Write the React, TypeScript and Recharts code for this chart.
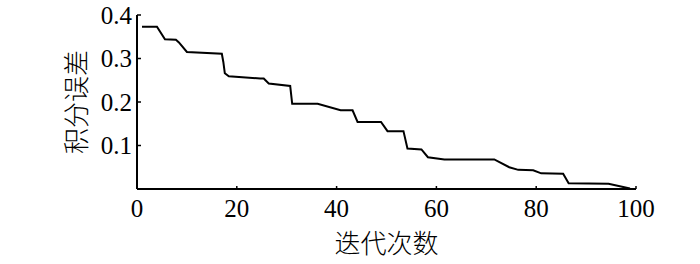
import React from "react"
import { LineChart, Line, XAxis, YAxis } from "recharts"

// iteration numbers and integral error (turning points of the step curve)
const iterations = [
  1, 4, 5.6, 7.8, 8.4, 10, 17, 17.3, 17.6, 18.4, 24.7, 25.4, 26.4, 30.7, 31.1,
  36.2, 40.8, 43.2, 44.2, 48.9, 50.2, 53.4, 54.2, 57, 58.3, 61.6, 71.6, 74.6,
  76.4, 79.4, 81, 85.4, 86.5, 94.5, 98.8,
]
const errors = [
  0.373, 0.373, 0.344, 0.343, 0.337, 0.315, 0.311, 0.292, 0.266, 0.259, 0.254,
  0.254, 0.2425, 0.237, 0.196, 0.196, 0.181, 0.181, 0.154, 0.154, 0.133, 0.133,
  0.093, 0.091, 0.073, 0.068, 0.068, 0.05, 0.044, 0.043, 0.036, 0.035, 0.013,
  0.012, 0.001,
]

const xTicks = [0, 20, 40, 60, 80, 100]
const yTicks = [0.1, 0.2, 0.3, 0.4]
const xTitle = "迭代次数"
const yTitle = "积分误差"

const data = iterations.map((it, i) => ({ it, err: errors[i] }))

const NUM_FONT = "Liberation Serif"
const CJK_FONT = "Noto Sans CJK SC"

// x tick: small mark pointing into the plot, label below
const renderXTick = (props: any) => {
  const { x, y, payload } = props
  const axisY = y - 10
  return (
    <g key={`xt-${payload.value}`}>
      <line x1={x} x2={x} y1={axisY} y2={axisY - 3} stroke="#000" strokeWidth={1.5} />
      <text
        x={x}
        y={y}
        dy="0.71em"
        textAnchor="middle"
        fill="#000"
        fontFamily={NUM_FONT}
        fontSize={25}
      >
        {payload.value}
      </text>
    </g>
  )
}

// y tick: mark pointing into the plot, label left of the axis
const renderYTick = (props: any) => {
  const { x, y, payload } = props
  const axisX = x + 5
  return (
    <g key={`yt-${payload.value}`}>
      <line x1={axisX} x2={axisX + 4} y1={y} y2={y} stroke="#000" strokeWidth={1.5} />
      <text
        x={x}
        y={y}
        dy="0.34em"
        textAnchor="end"
        fill="#000"
        fontFamily={NUM_FONT}
        fontSize={25}
      >
        {payload.value}
      </text>
    </g>
  )
}

export default function App() {
  return (
    <div style={{ position: "absolute", left: 0, top: 0, background: "#fff" }}>
      <LineChart
        width={700}
        height={264}
        data={data}
        margin={{ top: 15, right: 64, left: 0, bottom: 0 }}
      >
        <XAxis
          dataKey="it"
          type="number"
          domain={[0, 100]}
          ticks={xTicks}
          interval={0}
          height={75}
          tickSize={8}
          tickMargin={2}
          tickLine={false}
          tick={renderXTick}
          axisLine={{ stroke: "#000", strokeWidth: 2 }}
          label={{
            value: xTitle,
            position: "insideBottom",
            offset: 11,
            fontSize: 26,
            style: { fontFamily: CJK_FONT, fontWeight: 300 },
            fill: "#000",
          }}
        />
        <YAxis
          type="number"
          domain={[0, 0.4]}
          ticks={yTicks}
          interval={0}
          width={137}
          tickSize={4}
          tickMargin={1}
          tickLine={false}
          tick={renderYTick}
          axisLine={{ stroke: "#000", strokeWidth: 2 }}
          label={{
            value: yTitle,
            angle: -90,
            position: "center",
            dx: 8,
            fontSize: 26,
            style: { fontFamily: CJK_FONT, fontWeight: 300 },
            fill: "#000",
          }}
        />
        <Line
          type="linear"
          dataKey="err"
          stroke="#000"
          strokeWidth={2}
          dot={false}
          activeDot={false}
          isAnimationActive={false}
        />
      </LineChart>
    </div>
  )
}
